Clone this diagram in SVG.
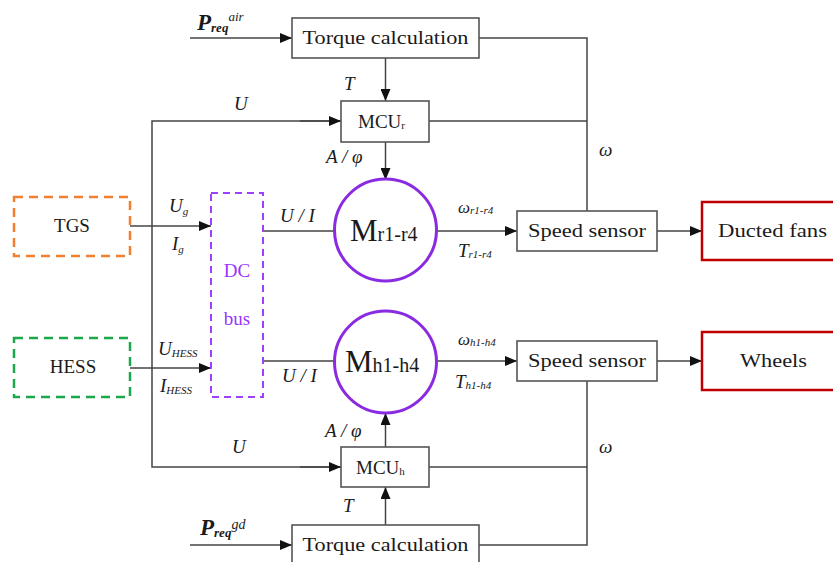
<svg xmlns="http://www.w3.org/2000/svg" width="833" height="562" viewBox="0 0 833 562">
<defs>
<marker id="ar" markerWidth="12" markerHeight="10" refX="12" refY="5" orient="auto" markerUnits="userSpaceOnUse">
<path d="M0,0 L12,5 L0,10 Z" fill="#111"/>
</marker>
<style>
.box{fill:#fff;stroke:#555;stroke-width:1.6}
.red{fill:#fff;stroke:#c00000;stroke-width:2.5}
.ln{fill:none;stroke:#444;stroke-width:1.5}
.t{font-family:"Liberation Serif","Times New Roman",serif;font-size:19px;fill:#1a1a1a}
.i{font-family:"Liberation Serif","Times New Roman",serif;font-size:19px;font-style:italic;fill:#1a1a1a}
.s{font-size:11px}
.pur{fill:#9933ff}
</style>
</defs>
<rect width="833" height="562" fill="#fff"/>

<g id="connectors">
<path class="ln" d="M190,38 H292" marker-end="url(#ar)"/>
<path class="ln" d="M190,545 H292" marker-end="url(#ar)"/>
<path class="ln" d="M385.5,58 V101" marker-end="url(#ar)"/>
<path class="ln" d="M385.5,525 V487" marker-end="url(#ar)"/>
<path class="ln" d="M385.5,142 V180" marker-end="url(#ar)"/>
<path class="ln" d="M385.5,447 V413" marker-end="url(#ar)"/>
<path class="ln" d="M341,121 H152 V467 H341" />
<path class="ln" d="M300,121 H341" marker-end="url(#ar)"/>
<path class="ln" d="M300,467 H341" marker-end="url(#ar)"/>
<path class="ln" d="M130,226 H211" marker-end="url(#ar)"/>
<path class="ln" d="M130,368 H211" marker-end="url(#ar)"/>
<path class="ln" d="M263,231 H334"/>
<path class="ln" d="M263,361 H334"/>
<path class="ln" d="M436,231 H517" marker-end="url(#ar)"/>
<path class="ln" d="M436,361 H517" marker-end="url(#ar)"/>
<path class="ln" d="M657,231 H702" marker-end="url(#ar)"/>
<path class="ln" d="M657,361 H702" marker-end="url(#ar)"/>
<path class="ln" d="M479,38 H587 V211"/>
<path class="ln" d="M429,121 H587"/>
<path class="ln" d="M479,545 H587 V381"/>
<path class="ln" d="M429,467 H587"/>
</g>

<g id="torque-top">
<rect class="box" x="292" y="18" width="187" height="40"/>
<text class="t" x="385.5" y="44" text-anchor="middle" textLength="166" lengthAdjust="spacingAndGlyphs">Torque calculation</text>
</g>
<g id="torque-bottom">
<rect class="box" x="292" y="525" width="187" height="45"/>
<text class="t" x="385.5" y="551" text-anchor="middle" textLength="166" lengthAdjust="spacingAndGlyphs">Torque calculation</text>
</g>
<g id="mcu-r">
<rect class="box" x="341" y="101" width="88" height="41"/>
<text class="t" x="358" y="128">MCU<tspan class="s" dy="1">r</tspan></text>
</g>
<g id="mcu-h">
<rect class="box" x="341" y="447" width="88" height="40"/>
<text class="t" x="356" y="474">MCU<tspan class="s" dy="1">h</tspan></text>
</g>
<g id="motor-r">
<circle cx="385.5" cy="230" r="51" fill="#fff" stroke="#8a2be2" stroke-width="3"/>
<text class="t" x="350" y="241" style="font-size:31px">M<tspan style="font-size:20px">r1-r4</tspan></text>
</g>
<g id="motor-h">
<circle cx="385.5" cy="362" r="51" fill="#fff" stroke="#8a2be2" stroke-width="3"/>
<text class="t" x="345" y="372" style="font-size:31px">M<tspan style="font-size:20px">h1-h4</tspan></text>
</g>
<g id="dc-bus">
<rect x="211" y="193" width="52" height="204" fill="none" stroke="#a040ff" stroke-width="2" stroke-dasharray="7,5"/>
<text class="t pur" x="237" y="277" text-anchor="middle">DC</text>
<text class="t pur" x="237" y="325" text-anchor="middle">bus</text>
</g>
<g id="tgs">
<rect x="14" y="197" width="116" height="59" fill="none" stroke="#f08030" stroke-width="2.5" stroke-dasharray="9,6"/>
<text class="t" x="72" y="232" text-anchor="middle">TGS</text>
</g>
<g id="hess">
<rect x="14" y="338" width="116" height="59" fill="none" stroke="#1aa84a" stroke-width="2.5" stroke-dasharray="9,6"/>
<text class="t" x="73" y="373" text-anchor="middle">HESS</text>
</g>
<g id="speed-top">
<rect class="box" x="517" y="211" width="140" height="40"/>
<text class="t" x="587" y="237" text-anchor="middle" textLength="118" lengthAdjust="spacingAndGlyphs">Speed sensor</text>
</g>
<g id="speed-bottom">
<rect class="box" x="517" y="341" width="140" height="40"/>
<text class="t" x="587" y="367" text-anchor="middle" textLength="118" lengthAdjust="spacingAndGlyphs">Speed sensor</text>
</g>
<g id="ducted-fans">
<rect class="red" x="702" y="202" width="140" height="58"/>
<text class="t" x="772.5" y="237" text-anchor="middle" textLength="109" lengthAdjust="spacingAndGlyphs">Ducted fans</text>
</g>
<g id="wheels">
<rect class="red" x="702" y="332" width="140" height="58"/>
<text class="t" x="773.5" y="367" text-anchor="middle" textLength="67" lengthAdjust="spacingAndGlyphs">Wheels</text>
</g>

<g id="labels">
<text class="i" x="197" y="30" style="font-size:23px;font-weight:bold">P<tspan style="font-size:13px" dy="2">req</tspan><tspan style="font-size:13px;font-weight:normal" dy="-11">air</tspan></text>
<text class="i" x="200" y="535" style="font-size:23px;font-weight:bold">P<tspan style="font-size:13px" dy="2">req</tspan><tspan style="font-size:14px;font-weight:normal" dy="-8">gd</tspan></text>
<text class="i" x="344" y="90">T</text>
<text class="i" x="234" y="110">U</text>
<text class="i" x="326" y="163">A / φ</text>
<text class="i" x="325" y="437">A / φ</text>
<text class="i" x="232" y="453">U</text>
<text class="i" x="343" y="512">T</text>
<text class="i" x="169" y="212">U<tspan class="s" dy="3">g</tspan></text>
<text class="i" x="172" y="250">I<tspan class="s" dy="3">g</tspan></text>
<text class="i" x="158" y="355">U<tspan class="s" dy="2">HESS</tspan></text>
<text class="i" x="160" y="392">I<tspan class="s" dy="2">HESS</tspan></text>
<text class="i" x="280" y="222">U / I</text>
<text class="i" x="282" y="382">U / I</text>
<text class="i" x="458" y="213" style="font-size:17px">ω<tspan class="s" dy="1">r1-r4</tspan></text>
<text class="i" x="458" y="257">T<tspan class="s" dy="1">r1-r4</tspan></text>
<text class="i" x="458" y="345" style="font-size:17px">ω<tspan class="s" dy="1">h1-h4</tspan></text>
<text class="i" x="455" y="388">T<tspan class="s" dy="1">h1-h4</tspan></text>
<text class="i" x="599" y="156">ω</text>
<text class="i" x="599" y="453">ω</text>
</g>
</svg>
